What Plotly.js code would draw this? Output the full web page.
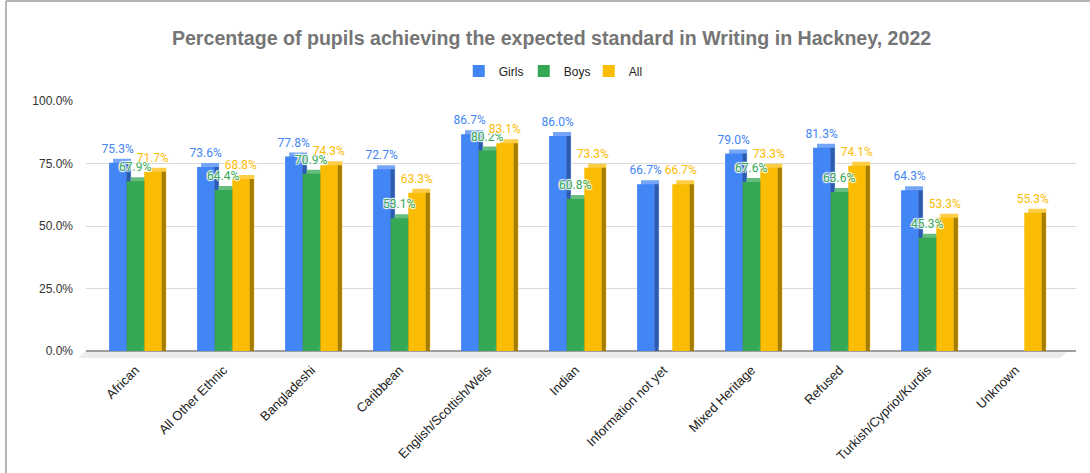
<!DOCTYPE html>
<html>
<head>
<meta charset="utf-8">
<script src="https://cdn.plot.ly/plotly-3.0.1.min.js"></script>
<style>html,body{margin:0;padding:0;background:#fff;}#chart{width:1090px;height:473px;}</style>
</head>
<body>
<div id="chart"></div>
<script>
const categories = ["African", "All Other Ethnic", "Bangladeshi", "Caribbean", "English/Scottish/Wels", "Indian", "Information not yet", "Mixed Heritage", "Refused", "Turkish/Cypriot/Kurdis", "Unknown"];
const girls = [75.3, 73.6, 77.8, 72.7, 86.7, 86.0, 66.7, 79.0, 81.3, 64.3, null];
const boys  = [67.9, 64.4, 70.9, 53.1, 80.2, 60.8, null, 67.6, 63.6, 45.3, null];
const all   = [71.7, 68.8, 74.3, 63.3, 83.1, 73.3, 66.7, 73.3, 74.1, 53.3, 55.3];
const yTicks = [0, 25, 50, 75, 100];
const yTickText = yTicks.map(v => v.toFixed(1) + "%");

const series = [
  {name: "Girls", values: girls, front: "#4285F4", top: "#74a5f7", side: "#2d5bb0", label: "#4285F4", off: -0.3},
  {name: "Boys",  values: boys,  front: "#34A853", top: "#66bd7d", side: "#1f7337", label: "#34A853", off: -0.1},
  {name: "All",   values: all,   front: "#FBBC04", top: "#fccd45", side: "#a77d00", label: "#FBBC04", off: 0.1}
];

const W = 0.195, SIDE = 0.05, SHIFT = 0.045, LIFT = 1.6, TXT = 1.6;
const halo = "1px 1px 1px #fff, -1px -1px 1px #fff, 1px -1px 1px #fff, -1px 1px 1px #fff";
const traces = [];
series.forEach(s => {
  traces.push({type: "bar", x: categories, y: s.values, base: LIFT, offset: s.off + SHIFT, width: W + SIDE - SHIFT + 0.005,
    marker: {color: s.top}, showlegend: false, hoverinfo: "skip"});
  traces.push({type: "bar", x: categories, y: s.values, base: 0, offset: s.off + W, width: SIDE,
    marker: {color: s.side}, showlegend: false, hoverinfo: "skip"});
  traces.push({type: "bar", x: categories, y: s.values, name: s.name, offset: s.off, width: W,
    marker: {color: s.front}, hoverinfo: "x+y"});
});
series.forEach(s => {
  traces.push({type: "bar", x: categories, y: s.values, base: TXT, offset: s.off, width: W,
    marker: {color: "rgba(0,0,0,0)"}, showlegend: false, hoverinfo: "skip",
    text: s.values.map(v => v == null ? "" : v.toFixed(1) + "%"),
    textposition: "outside", constraintext: "none", cliponaxis: false,
    textfont: {family: "Roboto, Arial, sans-serif", size: 12, color: s.label, shadow: halo}});
});

const layout = {
  width: 1090, height: 473,
  paper_bgcolor: "#fff", plot_bgcolor: "#fff",
  margin: {l: 86, r: 14, t: 101, b: 122, pad: 0},
  barmode: "overlay",
  title: {text: "Percentage of pupils achieving the expected standard in Writing in Hackney, 2022",
    font: {family: "Liberation Sans, Arial, sans-serif", size: 19.6, color: "#757575", weight: "bold"},
    x: 0.506, xanchor: "center", y: 0.92, yanchor: "middle", xref: "container", yref: "container"},
  legend: {orientation: "h", x: 0.475, xanchor: "center", y: 1.12, yanchor: "middle",
    font: {family: "Liberation Sans, Arial, sans-serif", size: 12, color: "#222"}, itemwidth: 30,
    entrywidth: 20, entrywidthmode: "pixels", traceorder: "normal"},
  xaxis: {type: "category", range: [-0.5625, 10.6875], showgrid: false, showline: false, ticks: "",
    tickangle: -45, ticklabelstandoff: 8,
    tickfont: {family: "Liberation Sans, Arial, sans-serif", size: 13, color: "#222"}, fixedrange: true},
  yaxis: {range: [0, 100], tickvals: yTicks, ticktext: yTickText,
    gridcolor: "#d9d9d9", gridwidth: 1, zeroline: true, zerolinecolor: "#9e9e9e", zerolinewidth: 2,
    showline: false, ticks: "", ticklabelstandoff: 12,
    tickfont: {family: "Liberation Sans, Arial, sans-serif", size: 12, color: "#333"}, fixedrange: true},
  shapes: [
    {type: "path", xref: "paper", yref: "paper", layer: "below",
     path: "M -0.008,-0.028 L 0,0 L 0.992,0 L 0.984,-0.028 Z", fillcolor: "#ececec", line: {width: 0}},
    {type: "line", xref: "paper", yref: "paper", x0: -0.0808, x1: 1.02, y0: 1.4, y1: 1.4, line: {color: "#9e9e9e", width: 1.5}},
    {type: "line", xref: "paper", yref: "paper", x0: -0.0808, x1: -0.0808, y0: 1.4, y1: -0.5, line: {color: "#9e9e9e", width: 1.5}}
  ]
};

Plotly.newPlot("chart", traces, layout, {displayModeBar: false, staticPlot: true});
</script>
</body>
</html>
